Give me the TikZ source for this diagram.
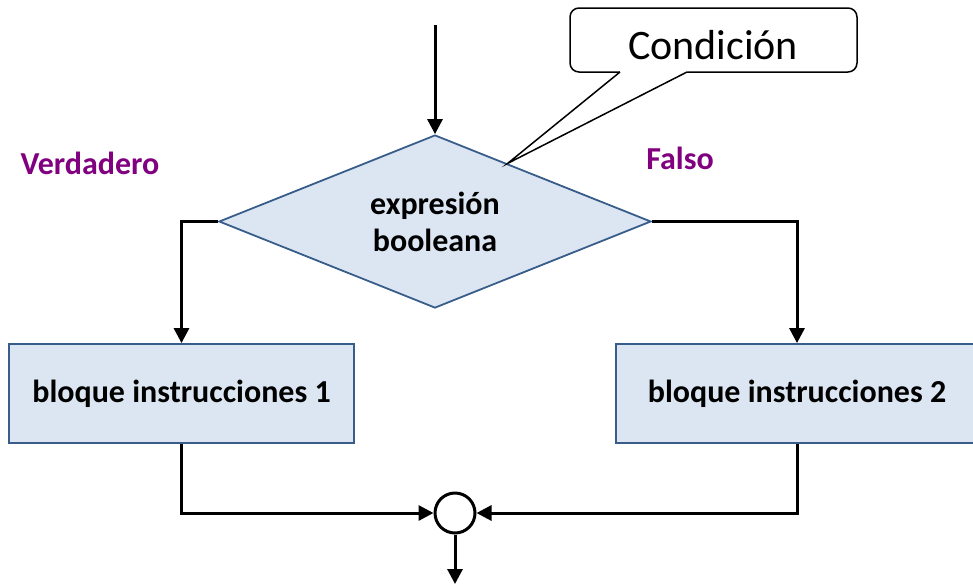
\documentclass[tikz,border=0pt]{standalone}
\usepackage{fontspec}
\setmainfont{Carlito}
\usetikzlibrary{arrows.meta,shapes.geometric,calc}
\definecolor{boxfill}{RGB}{220,230,242}
\definecolor{boxline}{RGB}{56,93,138}
\definecolor{labelpurple}{RGB}{128,0,128}
\tikzset{
  flow/.style={line width=3pt,-{Triangle[length=15pt,width=15pt]}},
  blockbox/.style={draw=boxline,line width=1.8pt,fill=boxfill,rectangle,inner sep=0pt,
    font=\fontsize{32}{38}\selectfont\bfseries,text=black},
  decision/.style={draw=boxline,line width=1.8pt,fill=boxfill,diamond,aspect=2.5,inner sep=0pt,
    minimum width=432pt,minimum height=173pt,align=center,
    font=\fontsize{32}{37}\selectfont\bfseries},
  branchlabel/.style={text=labelpurple,font=\fontsize{32}{38}\selectfont\bfseries,inner sep=0pt},
  callout/.style={draw=black,line width=1.5pt,fill=white,rounded corners=9pt,inner sep=0pt,
    minimum width=287pt,minimum height=64pt},
}
\begin{document}
\begin{tikzpicture}[x=1pt,y=-1pt]
  \clip (0,0) rectangle (973,587);
  \useasboundingbox (0,0) rectangle (973,587);

  % decision and the two instruction blocks
  \node[decision] (dec) at (435,221.5) {expresión\\booleana};
  \node[blockbox,minimum width=345pt,minimum height=99pt] (b1) at (181.5,393.5) {bloque instrucciones 1};
  \node[blockbox,minimum width=362pt,minimum height=99pt] (b2) at (797,393.5) {bloque instrucciones 2};

  % junction circle
  \node[circle,draw=black,line width=3pt,fill=white,minimum size=40pt,inner sep=0pt] (join) at (455,513) {};

  % entry and exit points
  \coordinate (in) at (435,25);
  \coordinate (out) at (455,584);

  % branch labels
  \node[branchlabel] (vlab) at (90,163) {Verdadero};
  \node[branchlabel] (flab) at (680,158) {Falso};

  % connectors
  \draw[flow] (in) -- (dec.north);
  \draw[flow] (dec.west) -| (b1.north);
  \draw[flow] (dec.east) -| (b2.north);
  \draw[flow] (b1.south) |- (join.west);
  \draw[flow] (b2.south) |- (join.east);
  \draw[flow] (join.south) -- (out);

  % speech-bubble callout pointing at the decision
  \node[callout] (cond) at (713.5,40) {};
  \node[font=\fontsize{42}{50}\selectfont,inner sep=0pt] (condtext) at (713,45) {Condición};
  \coordinate (tip) at ($(dec.north)!0.335!(dec.east)$);
  \coordinate (pl) at (620,72);
  \coordinate (pr) at (687,72);
  \fill[white] ($(pl)+(0,-2)$) -- ($(pr)+(0,-2)$) -- (pr) -- (tip) -- (pl) -- cycle;
  \draw[line width=1.5pt,line join=miter] (pl) -- (tip) -- (pr);
\end{tikzpicture}
\end{document}
